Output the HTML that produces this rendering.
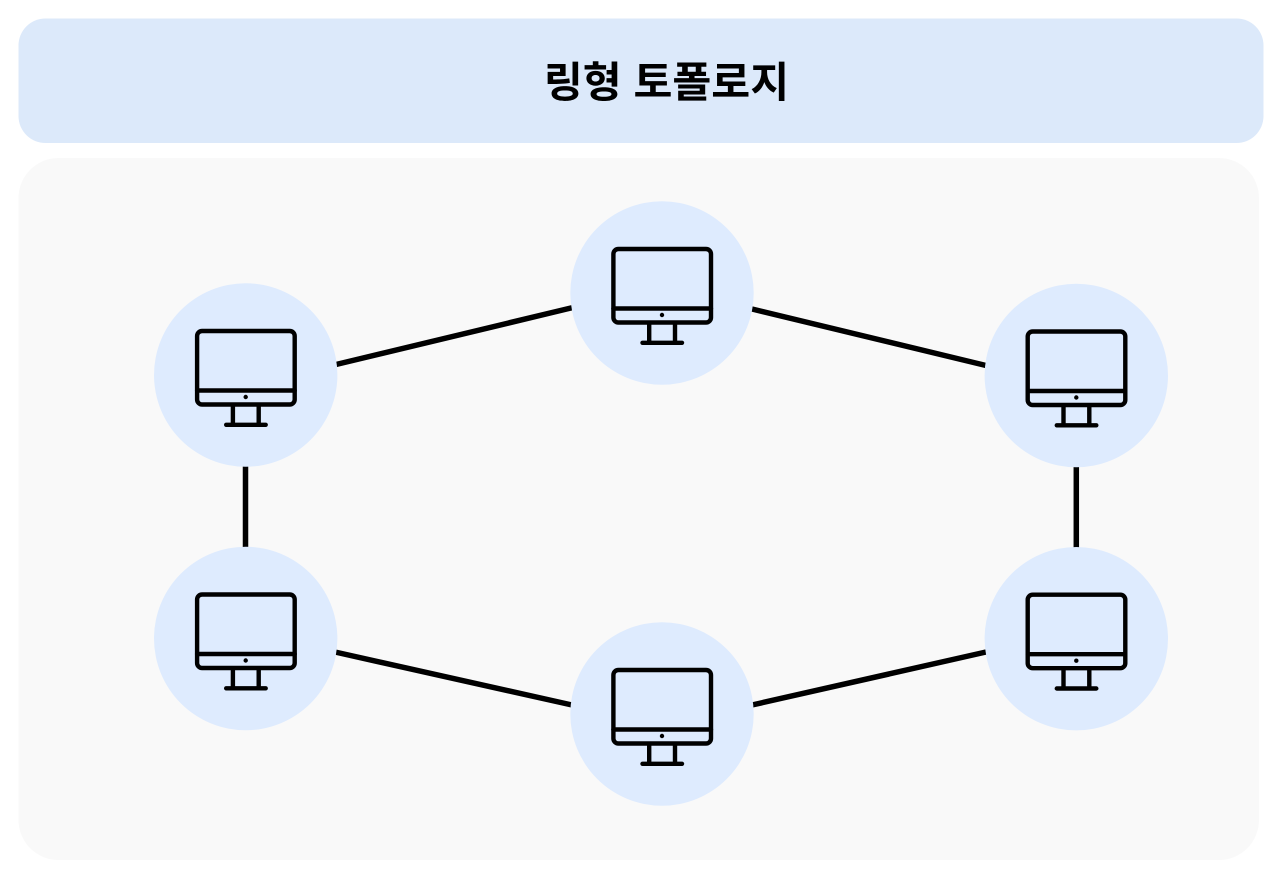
<!DOCTYPE html>
<html lang="ko">
<head>
<meta charset="utf-8">
<title>링형 토폴로지</title>
<style>
html,body{margin:0;padding:0;background:#fff;width:1280px;height:874px;overflow:hidden}
svg{display:block}
text{font-family:"Liberation Sans","Noto Sans CJK KR",sans-serif;font-weight:700;font-size:42.300px;fill:#000}
</style>
</head>
<body>
<svg width="1280" height="874" viewBox="0 0 1280 874" xmlns="http://www.w3.org/2000/svg">
<defs>
<g id="node">
<circle cx="0" cy="0" r="91.700" fill="#deebfe"/>
<g fill="none" stroke="#000" stroke-width="4.400" stroke-linecap="round" stroke-linejoin="round">
<rect x="-48.600" y="-44" width="97.600" height="73.500" rx="5" ry="5"/>
<path d="M-48.600 15.500H49"/>
<path d="M-12.800 30V49.500M13 30V49.500"/>
<path d="M-19.500 49.800H20"/>
</g>
<circle cx="0" cy="22" r="2.200" fill="#000"/>
</g>
</defs>
<rect x="18.500" y="18.500" width="1245" height="124.500" rx="27" ry="27" fill="#dce9fa"/>
<rect x="18.500" y="158" width="1240.500" height="702" rx="40" ry="40" fill="#f9f9f9"/>
<text x="666.500" y="97">
<tspan text-anchor="middle">링형 토폴로지</tspan>
</text>
<g stroke="#000" stroke-width="5.500" fill="none">
<path d="M336 364.500L573 307.500"/>
<path d="M752 309L986 365.500"/>
<path d="M245.500 466V548"/>
<path d="M1076.300 466V548"/>
<path d="M335 652L572 705"/>
<path d="M752 705L986 652"/>
</g>
<use href="#node" x="662" y="293"/>
<use href="#node" x="245.700" y="375"/>
<use href="#node" x="1076.300" y="375.500"/>
<use href="#node" x="245.700" y="638.500"/>
<use href="#node" x="1076.300" y="638.700"/>
<use href="#node" x="662" y="714"/>
</svg>
</body>
</html>
